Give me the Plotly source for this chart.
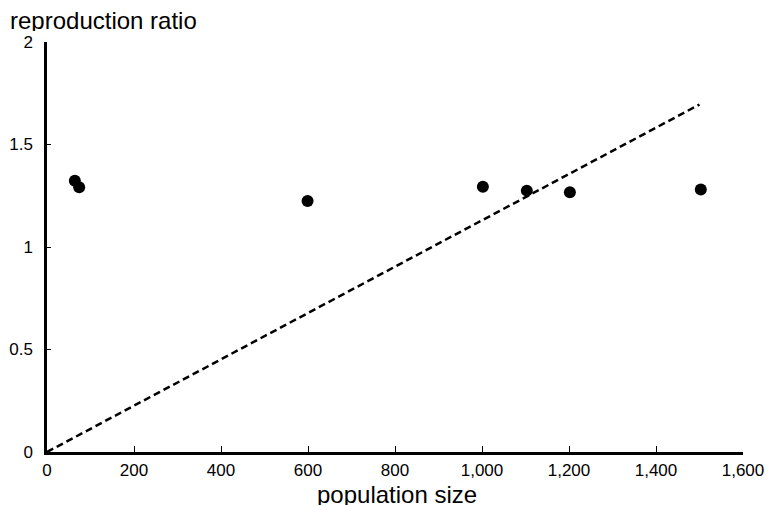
import plotly.graph_objects as go

# data
pop_size = [64, 74, 599, 1002, 1103, 1202, 1503]
repro_ratio = [1.323, 1.291, 1.224, 1.294, 1.275, 1.267, 1.281]
line_x = [0, 1500]
line_y = [0, 1.695]
x_ticks = [0, 200, 400, 600, 800, 1000, 1200, 1400, 1600]
x_tick_labels = ["0", "200", "400", "600", "800", "1,000", "1,200", "1,400", "1,600"]
y_ticks = [0, 0.5, 1, 1.5, 2]
y_tick_labels = ["0", "0.5", "1", "1.5", "2"]

FONT = "Liberation Sans, Arial, sans-serif"
# page has an 8px body margin, so the figure is sized to fit the window
W, H = 766, 498
ML, MR, MT, MB = 39, 31, 34, 54
PW = W - ML - MR
PH = H - MT - MB

fig = go.Figure()
fig.add_trace(go.Scatter(x=line_x, y=line_y, mode="lines",
                         line=dict(color="black", width=2.5, dash="7px,4px"),
                         hoverinfo="skip", showlegend=False))
fig.add_trace(go.Scatter(x=pop_size, y=repro_ratio, mode="markers",
                         marker=dict(color="black", size=12),
                         showlegend=False))

fig.update_layout(
    width=W, height=H,
    margin=dict(l=ML, r=MR, t=MT, b=MB, autoexpand=False),
    paper_bgcolor="white", plot_bgcolor="white",
    font=dict(family=FONT, color="black"),
    annotations=[
        dict(text="reproduction ratio", xref="paper", yref="paper",
             x=-ML / PW, y=1 + (MT - 12) / PH,
             xanchor="left", yanchor="middle", showarrow=False,
             height=22, valign="middle",
             font=dict(size=24, family=FONT, color="black")),
        dict(text="population size", xref="paper", yref="paper",
             x=(389 - ML) / PW, y=-42 / PH,
             xanchor="center", yanchor="middle", showarrow=False,
             height=22, valign="middle",
             font=dict(size=24, family=FONT, color="black")),
    ],
)
fig.update_xaxes(range=[0, 1600], tickvals=x_ticks, ticktext=x_tick_labels,
                 showline=True, linecolor="black", linewidth=2.5,
                 ticks="inside", ticklen=6, tickwidth=1, tickcolor="black",
                 showgrid=False, zeroline=False, automargin=False,
                 ticklabelstandoff=1,
                 tickfont=dict(size=17, family=FONT))
fig.update_yaxes(range=[0, 2], tickvals=y_ticks, ticktext=y_tick_labels,
                 showline=True, linecolor="black", linewidth=2.5,
                 ticks="inside", ticklen=4, tickwidth=1, tickcolor="black",
                 showgrid=False, zeroline=False, automargin=False,
                 ticklabelstandoff=8,
                 tickfont=dict(size=17, family=FONT))

fig.write_html("out.html")
